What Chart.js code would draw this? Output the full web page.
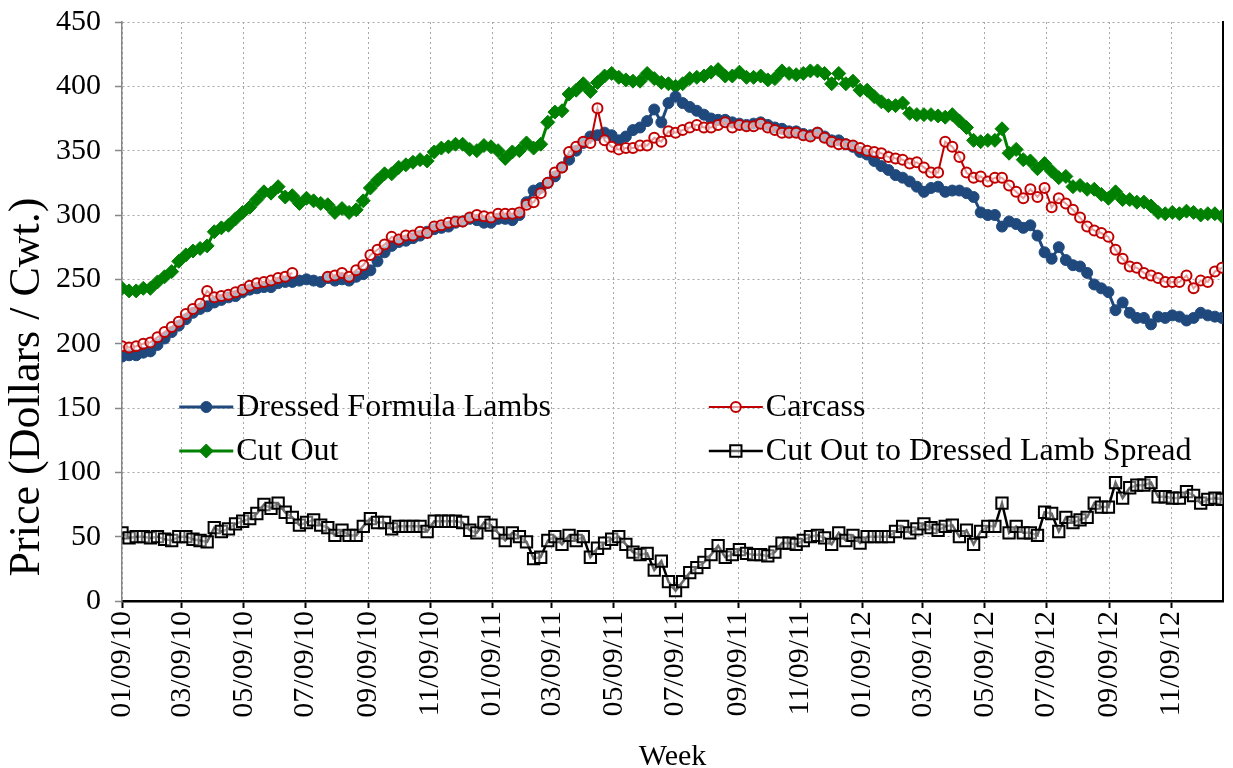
<!DOCTYPE html>
<html>
<head>
<meta charset="utf-8">
<script src="https://cdn.jsdelivr.net/npm/chart.js@4.4.1/dist/chart.umd.min.js"></script>
<style>
  html, body { margin: 0; padding: 0; background: #fff; }
  #wrap { width: 1233px; height: 768px; }
</style>
</head>
<body>
<div id="wrap"><canvas id="chart" width="1233" height="768"></canvas></div>
<script>
// Weekly prices, first week 01/09/10 (one value per week, 156 weeks)
const dressed = [
  190,191,191,193,194,199,204,209,214,219,
  224,227,229,232,234,236,237,240,242,243,
  244,244,247,248,248,249,250,249,248,251,
  249,250,249,252,254,257,264,271,276,279,
  280,282,284,287,289,290,291,294,295,297,
  296,294,294,297,297,296,300,310,319,321,
  325,330,337,343,350,356,361,362,364,362,
  358,361,366,368,373,382,372,387,392,387,
  384,381,378,375,374,374,372,371,370,371,
  372,370,368,367,365,365,363,362,364,361,
  358,358,355,353,349,347,342,338,335,331,
  329,326,322,318,321,322,318,319,319,317,
  314,302,300,300,291,295,293,290,292,284,
  271,266,275,265,261,260,255,246,243,240,
  226,232,224,220,220,215,221,220,222,221,
  218,220,224,222,221,220
];
const carcass = [
  198,197,198,200,201,205,209,213,217,223,
  227,231,241,236,237,238,240,242,245,247,
  248,249,251,252,255,null,null,null,null,252,
  253,255,252,257,261,269,273,277,283,281,
  284,284,287,286,291,292,294,295,295,298,
  300,299,298,301,301,301,302,308,310,317,
  325,333,337,349,353,357,356,383,358,353,
  351,352,352,354,354,360,357,365,364,366,
  368,370,368,368,370,372,368,370,369,369,
  371,368,366,364,364,364,362,361,364,360,
  357,355,355,354,352,350,349,348,345,344,
  343,340,341,337,333,333,357,353,345,333,
  329,330,326,329,329,323,318,313,320,314,
  321,306,313,309,304,298,291,288,286,283,
  273,266,260,259,255,253,251,248,248,248,
  253,243,249,248,256,259
];
const cutOut = [
  243,241,241,243,243,248,252,256,264,269,
  272,274,276,287,290,292,297,302,306,312,
  318,317,322,314,315,309,313,311,309,308,
  302,305,302,304,311,321,327,332,332,337,
  339,341,343,342,349,352,353,355,355,351,
  350,354,353,350,344,349,350,356,352,355,
  372,380,381,394,397,402,396,403,408,410,
  407,405,404,404,410,406,403,402,400,402,
  406,407,408,411,413,408,408,411,407,407,
  408,405,406,412,410,409,410,412,412,410,
  402,410,402,404,397,397,392,388,385,385,
  387,379,378,378,378,377,376,378,373,368,
  358,357,358,358,367,348,351,343,342,336,
  340,334,329,330,322,323,320,320,316,313,
  318,312,312,310,310,307,302,301,302,301,
  303,302,300,301,301,299
];
const spread = [
  53,49,50,50,49,50,48,47,50,50,
  48,47,46,57,54,56,60,62,64,68,
  75,72,76,69,65,59,61,63,59,57,
  51,55,51,51,58,64,61,61,56,58,
  58,58,58,54,62,62,62,62,61,55,
  53,61,59,53,47,53,50,46,33,34,
  47,50,44,51,47,50,34,41,45,48,
  50,44,38,36,37,24,31,15,8,15,
  22,26,30,36,43,34,36,40,37,36,
  36,35,38,45,45,44,47,50,51,49,
  44,53,47,51,45,50,50,50,50,54,
  58,53,56,60,57,55,58,59,50,55,
  44,54,58,58,76,53,58,53,53,51,
  69,68,54,65,61,63,65,76,73,73,
  92,80,88,90,90,92,81,81,80,80,
  85,82,76,79,80,79
];

// x axis: days since 01/09/10, labels every two months
const tickDays = [0,59,120,181,243,304,365,424,485,546,608,669,730,790,851,912,974,1035];
const tickLabels = ['01/09/10','03/09/10','05/09/10','07/09/10','09/09/10','11/09/10',
  '01/09/11','03/09/11','05/09/11','07/09/11','09/09/11','11/09/11',
  '01/09/12','03/09/12','05/09/12','07/09/12','09/09/12','11/09/12'];
const LAST_DAY = 1086;

const FONT = "'Liberation Serif', 'Times New Roman', serif";
const Y_TITLE = 'Price (Dollars / Cwt.)';

// turn a weekly array into {x: day, y} points
function toPoints(values) {
  return values.map((v, i) => ({ x: i * 7, y: v }));
}

// legend drawn inside the plot, two columns
const insideLegend = {
  id: 'insideLegend',
  afterDraw(chart) {
    const { ctx, chartArea } = chart;
    const w = chartArea.right - chartArea.left;
    const slots = [
      { ds: 0, fx: 0.052, y: 407 },
      { ds: 1, fx: 0.533, y: 407 },
      { ds: 2, fx: 0.052, y: 451 },
      { ds: 3, fx: 0.533, y: 451 }
    ];
    ctx.save();
    slots.forEach(s => {
      const ds = chart.data.datasets[s.ds];
      const x0 = chartArea.left + s.fx * w;
      const x1 = x0 + 54;
      const cx = (x0 + x1) / 2;
      ctx.strokeStyle = ds.borderColor;
      ctx.lineWidth = ds.borderWidth;
      ctx.setLineDash([]);
      ctx.beginPath();
      ctx.moveTo(x0, s.y);
      ctx.lineTo(x1, s.y);
      ctx.stroke();
      drawMarker(ctx, ds, cx, s.y);
      ctx.fillStyle = '#000';
      ctx.font = '32px ' + FONT;
      ctx.textBaseline = 'middle';
      ctx.textAlign = 'left';
      ctx.fillText(ds.label, x1 + 3, s.y + 1);
    });
    ctx.restore();
  }
};

// y axis title, larger than the tick labels and a little below the plot centre
const yTitle = {
  id: 'yTitle',
  afterDraw(chart) {
    const ctx = chart.ctx;
    ctx.save();
    ctx.translate(27, chart.height / 2 + 3);
    ctx.rotate(-Math.PI / 2);
    ctx.font = '44px ' + FONT;
    ctx.fillStyle = '#000';
    ctx.textAlign = 'center';
    ctx.textBaseline = 'middle';
    ctx.fillText(Y_TITLE, 0, 0);
    ctx.restore();
  }
};

function drawMarker(ctx, ds, x, y) {
  const r = ds.pointRadius;
  ctx.beginPath();
  if (ds.pointStyle === 'rectRot') {
    ctx.moveTo(x, y - r); ctx.lineTo(x + r, y); ctx.lineTo(x, y + r); ctx.lineTo(x - r, y);
    ctx.closePath();
  } else if (ds.pointStyle === 'rect') {
    const h = r * Math.SQRT1_2;
    ctx.rect(x - h, y - h, 2 * h, 2 * h);
  } else {
    ctx.arc(x, y, r, 0, Math.PI * 2);
  }
  ctx.fillStyle = ds.pointBackgroundColor;
  ctx.fill();
  ctx.lineWidth = ds.pointBorderWidth;
  ctx.strokeStyle = ds.pointBorderColor;
  ctx.stroke();
}

const gridColor = '#a6a6a6';

new Chart(document.getElementById('chart'), {
  type: 'line',
  data: {
    datasets: [
      {
        label: 'Dressed Formula Lambs',
        data: toPoints(dressed),
        borderColor: '#1f497d', borderWidth: 3,
        pointStyle: 'circle', pointRadius: 5.5,
        pointBackgroundColor: '#1f497d', pointBorderColor: '#1f497d', pointBorderWidth: 1,
        order: 1
      },
      {
        label: 'Carcass',
        data: toPoints(carcass),
        borderColor: '#c00000', borderWidth: 2,
        pointStyle: 'circle', pointRadius: 5,
        pointBackgroundColor: 'rgba(255,255,255,0.6)', pointBorderColor: '#c00000', pointBorderWidth: 2,
        spanGaps: false,
        order: 0
      },
      {
        label: 'Cut Out',
        data: toPoints(cutOut),
        borderColor: '#008000', borderWidth: 3,
        pointStyle: 'rectRot', pointRadius: 7,
        pointBackgroundColor: '#008000', pointBorderColor: '#008000', pointBorderWidth: 1,
        order: 2
      },
      {
        label: 'Cut Out to Dressed Lamb Spread',
        data: toPoints(spread),
        borderColor: '#000000', borderWidth: 2.5,
        pointStyle: 'rect', pointRadius: 8,
        pointBackgroundColor: 'rgba(255,255,255,0.4)', pointBorderColor: '#000000', pointBorderWidth: 2,
        order: 3
      }
    ]
  },
  options: {
    responsive: false,
    animation: false,
    layout: { padding: { top: 22, right: 7, left: 0, bottom: 0 } },
    plugins: { legend: { display: false }, tooltip: { enabled: false } },
    elements: { line: { tension: 0 } },
    scales: {
      x: {
        type: 'linear',
        min: 0,
        max: LAST_DAY,
        afterBuildTicks: scale => { scale.ticks = tickDays.map(d => ({ value: d })); },
        afterFit: scale => { scale.height = 167; },
        ticks: {
          autoSkip: false,
          minRotation: 90,
          maxRotation: 90,
          padding: 3,
          color: '#000',
          font: { family: FONT, size: 30 },
          callback: (value, index) => tickLabels[index]
        },
        grid: { color: gridColor, lineWidth: 1, tickLength: 7, tickColor: '#000', tickWidth: 2 },
        border: { color: '#000', width: 2.5, dash: [2, 3] },
        title: {
          display: true, text: 'Week', color: '#000',
          font: { family: FONT, size: 30, lineHeight: 0.75 },
          padding: { top: 0, bottom: 0 }
        }
      },
      y: {
        min: 0,
        max: 450,
        afterFit: scale => {
          scale.width = 122;
          scale.paddingTop = 0;
          scale.paddingBottom = 0;
        },
        ticks: {
          stepSize: 50,
          padding: 14,
          color: '#000',
          font: { family: FONT, size: 30 }
        },
        grid: { color: gridColor, lineWidth: 1, tickLength: 7, tickColor: '#868686', tickWidth: 1.5 },
        border: { color: '#868686', width: 1.5, dash: [2, 3] }
      },
      y2: {
        position: 'right',
        min: 0,
        max: 450,
        afterFit: scale => { scale.width = 2; },
        ticks: { display: false },
        grid: { drawOnChartArea: false, drawTicks: false },
        border: { color: '#000', width: 2 }
      }
    }
  },
  plugins: [insideLegend, yTitle]
});
</script>
</body>
</html>
